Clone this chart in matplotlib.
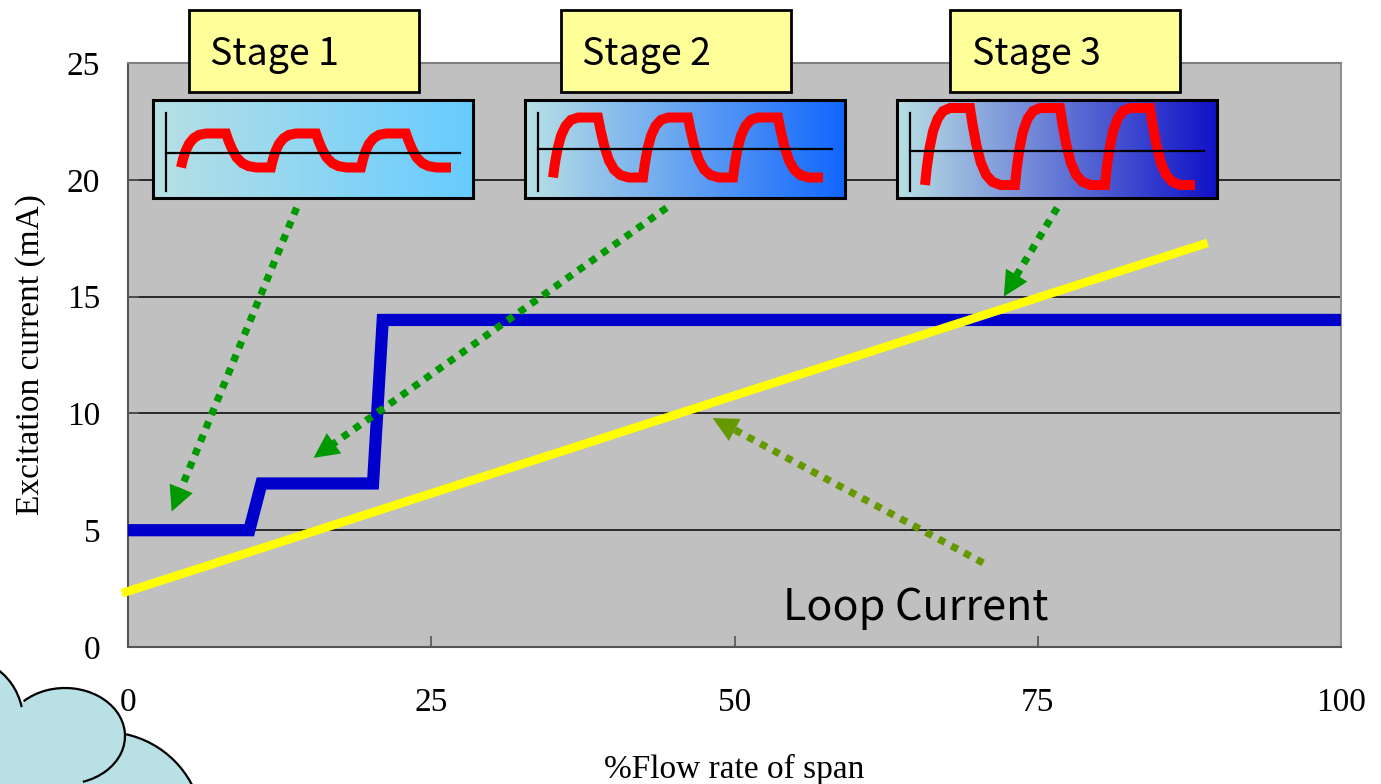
import numpy as np
import matplotlib.pyplot as plt
from matplotlib.colors import to_rgb
from matplotlib.patches import Rectangle, Ellipse, Arc, Polygon

# blue step line: excitation current (mA) vs % flow rate of span
flow_steps = [0, 10, 11, 20.2, 21, 100]
excitation = [5, 5, 7, 7, 14, 14]

# yellow line: loop current
loop_flow = [-0.5, 89]
loop_current = [2.3, 17.3]

x_ticks = [0, 25, 50, 75, 100]
y_ticks = [0, 5, 10, 15, 20, 25]

stage_names = ["Stage 1", "Stage 2", "Stage 3"]
stage_amp = [17, 30, 38.5]          # half height of the red wave in each inset
stage_mid = [50.5, 47.5, 46.5]
stage_right_color = ["#66CCFF", "#1166FF", "#1111C8"]

# one cycle of the red wave (fraction of period, fraction of amplitude)
wave_x = [0.00, 0.02, 0.05, 0.09, 0.14, 0.20, 0.28, 0.50, 0.53, 0.57, 0.62, 0.68, 0.75, 0.84, 1.00]
wave_y = [-1.0, -0.55, -0.05, 0.40, 0.72, 0.92, 1.0, 1.0, 0.55, 0.05, -0.42, -0.74, -0.92, -1.0, -1.0]

W, H = 1381, 784
fig = plt.figure(figsize=(W / 100, H / 100), dpi=100)
serif = "Liberation Serif"
gothic = ["Noto Sans CJK JP", "DejaVu Sans"]

# main chart
ax = fig.add_axes([128 / W, 1 - 647 / H, (1341 - 128) / W, (647 - 63) / H], zorder=1)
ax.set_facecolor("#C0C0C0")
ax.set_xlim(0, 100)
ax.set_ylim(0, 25)
ax.set_xticks(x_ticks)
ax.set_yticks(y_ticks)
for y in y_ticks[1:-1]:
    ax.axhline(y, color="black", lw=1.1, zorder=1)
ax.tick_params(direction="in", length=8, width=1.2, color="#555555", labelsize=24)
ax.tick_params(axis="x", pad=29)
ax.tick_params(axis="y", pad=20)
for lab in ax.get_xticklabels() + ax.get_yticklabels():
    lab.set_fontfamily(serif)
ax.set_xlabel("%Flow rate of span", fontsize=24, fontfamily=serif, labelpad=26)
ax.set_ylabel("Excitation current (mA)", fontsize=24, fontfamily=serif, labelpad=15)
ax.spines["left"].set_color("#555555")
ax.spines["bottom"].set_color("#555555")
ax.spines["top"].set_color("#808080")
ax.spines["right"].set_color("#909090")
for s in ax.spines.values():
    s.set_linewidth(1.5)

ax.plot(flow_steps, excitation, color="#0000CC", lw=8.8, solid_capstyle="butt",
        solid_joinstyle="miter", clip_on=False, zorder=3)
ax.plot(loop_flow, loop_current, color="#FFFF00", lw=6.2, solid_capstyle="butt",
        clip_on=False, zorder=4)

# dotted arrows (tail -> tip, in data units); shaft stops short of the head
arrows = [((13.9, 18.8), (3.6, 5.8), "#009900"),
          ((44.4, 18.8), (15.3, 8.1), "#009900"),
          ((76.6, 18.8), (72.2, 15.0), "#009900"),
          ((70.5, 3.6), (48.2, 9.8), "#669900")]
to_px = ax.transData
for tail, tip, col in arrows:
    p0 = to_px.transform(tail)
    p1 = to_px.transform(tip)
    d = (p1 - p0) / np.hypot(*(p1 - p0))
    end = to_px.inverted().transform(p1 - d * 22)
    ax.plot([tail[0], end[0]], [tail[1], end[1]], color=col, lw=5.2,
            linestyle=(0, (1, 1)), dash_capstyle="butt", clip_on=False, zorder=5)
    ax.annotate("", xy=tip, xytext=tail, annotation_clip=False,
                arrowprops=dict(arrowstyle="-|>,head_length=0.9,head_width=0.45",
                                mutation_scale=20, color=col, lw=0,
                                shrinkA=0, shrinkB=0), zorder=5)

# cloud in the lower left corner (under the main axes so the "0" label is on top)
low = fig.add_axes([0, 0, 1, 1], zorder=0)
low.set_xlim(0, W)
low.set_ylim(H, 0)
low.axis("off")
cloud = "#B9E0E4"
low.add_patch(Ellipse((-40, 720), 126, 126, fc=cloud, ec="none"))
low.add_patch(Ellipse((105, 830), 196, 196, fc=cloud, ec="none"))
low.add_patch(Ellipse((65, 736), 120, 96, fc=cloud, ec="none"))
low.add_patch(Polygon([(0, 690), (22, 707), (125, 738), (193, 784), (0, 784)],
                      fc=cloud, ec="none"))
low.add_patch(Arc((-40, 720), 126, 126, theta1=-60, theta2=-11.8, color="black", lw=1.6))
low.add_patch(Arc((65, 736), 120, 96, theta1=220, theta2=68.7, color="black", lw=1.6))
low.add_patch(Arc((105, 830), 196, 196, theta1=-78, theta2=-12, color="black", lw=1.6))

# stage labels, wave insets and the "Loop Current" note (pixel coordinates)
top = fig.add_axes([0, 0, 1, 1], zorder=2)
top.axis("off")
box_left = [189, 561, 950]
inset_left = [153, 525, 897]
text_left = [210, 582, 972]
axis_y = [153, 149, 151]
left_rgb = np.array([184, 224, 228]) / 255
for i, name in enumerate(stage_names):
    top.add_patch(Rectangle((box_left[i], 10), 230, 82, fc="#FFFF99", ec="black", lw=2))
    top.text(text_left[i], 65, name, fontsize=27, fontfamily=gothic, va="baseline")

    L = inset_left[i]
    right_rgb = np.array(to_rgb(stage_right_color[i]))
    t = np.linspace(0, 1, 256)[:, None]
    grad = (left_rgb * (1 - t) + right_rgb * t)[None, :, :]
    top.imshow(grad, extent=(L, L + 320, 198, 100), aspect="auto", interpolation="bilinear")

    xs = np.concatenate([L + 28 + 90 * (k + np.array(wave_x)) for k in range(3)])
    ys = np.concatenate([100 + stage_mid[i] - stage_amp[i] * np.array(wave_y) for k in range(3)])
    top.plot(xs, ys, color="#FF0000", lw=7.2, solid_joinstyle="miter", solid_capstyle="butt")
    top.plot([L + 13, L + 13], [113, 191], color="black", lw=1.6)
    top.plot([L + 13, L + 307], [axis_y[i]] * 2, color="black", lw=1.6)
    top.add_patch(Rectangle((L, 100), 320, 98, fill=False, ec="black", lw=2.2))

top.text(783, 620, "Loop Current", fontsize=31, fontfamily=gothic, va="baseline", ha="left")

top.set_xlim(0, W)
top.set_ylim(H, 0)

fig.savefig("out.png", dpi=100)
